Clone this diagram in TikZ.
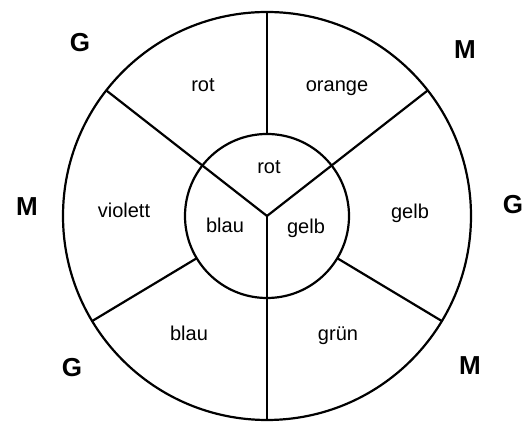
\documentclass[tikz,border=0pt]{standalone}
\usepackage{fontspec}
\setmainfont{Liberation Sans}
\usepackage{tikz}
\usetikzlibrary{positioning, calc}
\tikzset{
	ring/.style     ={circle, draw=black, line width=2.2pt, inner sep=0pt, outer sep=0pt},
	spoke/.style    ={line width=2.2pt},
	colname/.style  ={font=\fontsize{20}{24}\selectfont, text height=0.7em, text depth=0.2em, inner sep=0pt},
	pole/.style     ={font=\fontsize{26}{30}\selectfont\bfseries, text height=0.72em, text depth=0pt, inner sep=0pt},
}
\begin{document}
\begin{tikzpicture}[x=1pt, y=1pt]
	\useasboundingbox (0,0) rectangle (528,422);
	\coordinate (mid) at (267,206);
	\node[ring, minimum size=408pt] (outer) at (mid) {};
	\node[ring, minimum size=164pt] (inner) at (mid) {};
	% Y inside the small circle, carried on to the rim
	\draw[spoke] (mid) -- (outer.142);
	\draw[spoke] (mid) -- (outer.38);
	\draw[spoke] (mid) -- (outer.270);
	% dividers of the outer ring only
	\draw[spoke] (inner.90) -- (outer.90);
	\draw[spoke] (inner.211) -- (outer.211);
	\draw[spoke] (inner.329) -- (outer.329);
	% colours of the ring
	\node[colname] (oRot)     at (203,333) {rot};
	\node[colname] (oOrange)  at (337,333) {orange};
	\node[colname] (oViolett) at (124,207) {violett};
	\node[colname] (oGelb)    at (410,206) {gelb};
	\node[colname] (oBlau)    at (189,84)  {blau};
	\node[colname] (oGruen)   at (338,84)  {grün};
	% primaries in the middle
	\node[colname] (iRot)  at (269,251) {rot};
	\node[colname] (iBlau) at (225,192) {blau};
	\node[colname] (iGelb) at (306,191) {gelb};
	% letters round the wheel
	\node[pole] (g1) at (80,374) {G};
	\node[pole] (m1) at (465,367) {M};
	\node[pole] (m2) at (27,210) {M};
	\node[pole] (g2) at (513,212) {G};
	\node[pole] (g3) at (72,49) {G};
	\node[pole] (m3) at (470,51) {M};
\end{tikzpicture}
\end{document}
